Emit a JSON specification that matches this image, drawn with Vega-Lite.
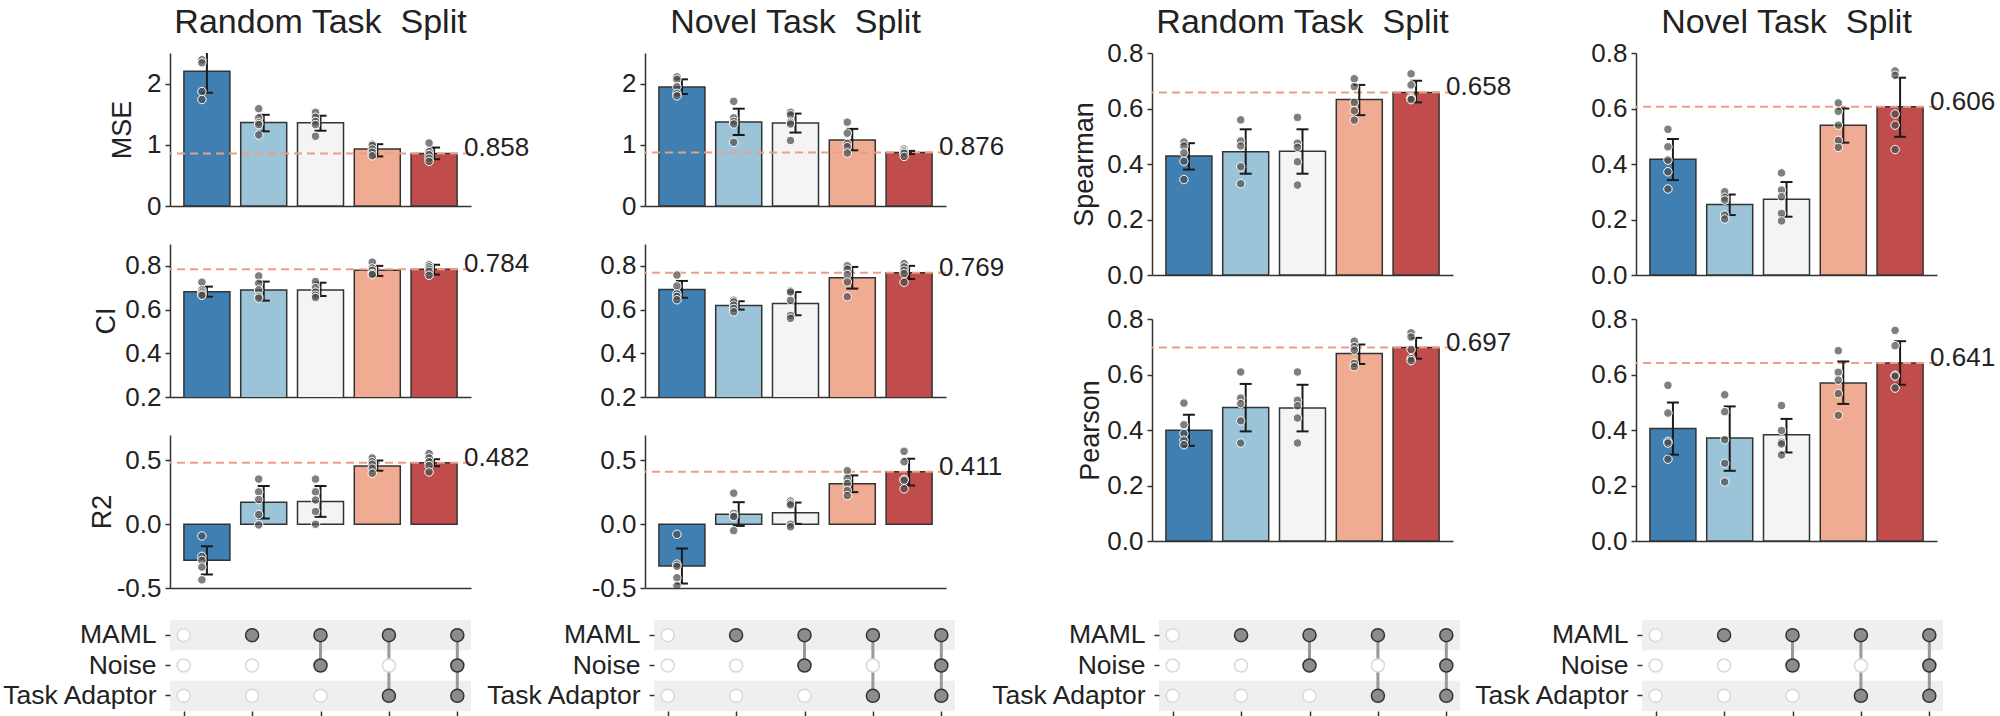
{
  "$schema": "https://vega.github.io/schema/vega-lite/v6.json",
  "background": "white",
  "padding": {"left": 1, "top": 6, "right": 0, "bottom": 0},
  "config": {
    "view": {"stroke": null},
    "font": "Liberation Sans",
    "axis": {
      "labelFont": "Liberation Sans", "titleFont": "Liberation Sans",
      "labelFontSize": 26, "titleFontSize": 27, "titleFontWeight": "normal",
      "labelColor": "#222222", "titleColor": "#222222",
      "domainColor": "#333333", "tickColor": "#333333",
      "domainWidth": 1.5, "tickWidth": 1.5, "tickSize": 5, "labelPadding": 4, "grid": false
    },
    "title": {"font": "Liberation Sans", "fontWeight": "normal", "fontSize": 34, "color": "#222222", "anchor": "middle", "frame": "group", "baseline": "alphabetic"}
  },
  "datasets": {
    "b": [
      {"s":"R","m":"MSE","c":"c1","mean":2.2,"lo":1.85,"hi":2.56},
      {"s":"R","m":"MSE","c":"c2","mean":1.365,"lo":1.22,"hi":1.49},
      {"s":"R","m":"MSE","c":"c3","mean":1.36,"lo":1.23,"hi":1.475},
      {"s":"R","m":"MSE","c":"c4","mean":0.93,"lo":0.81,"hi":1.01},
      {"s":"R","m":"MSE","c":"c5","mean":0.858,"lo":0.765,"hi":0.955},
      {"s":"R","m":"CI","c":"c1","mean":0.682,"lo":0.659,"hi":0.705},
      {"s":"R","m":"CI","c":"c2","mean":0.689,"lo":0.641,"hi":0.728},
      {"s":"R","m":"CI","c":"c3","mean":0.689,"lo":0.662,"hi":0.723},
      {"s":"R","m":"CI","c":"c4","mean":0.78,"lo":0.754,"hi":0.8},
      {"s":"R","m":"CI","c":"c5","mean":0.784,"lo":0.76,"hi":0.805},
      {"s":"R","m":"R2","c":"c1","mean":-0.283,"lo":-0.394,"hi":-0.173},
      {"s":"R","m":"R2","c":"c2","mean":0.173,"lo":0.045,"hi":0.3},
      {"s":"R","m":"R2","c":"c3","mean":0.179,"lo":0.058,"hi":0.3},
      {"s":"R","m":"R2","c":"c4","mean":0.457,"lo":0.42,"hi":0.5},
      {"s":"R","m":"R2","c":"c5","mean":0.482,"lo":0.455,"hi":0.51},
      {"s":"N","m":"MSE","c":"c1","mean":1.946,"lo":1.83,"hi":2.07},
      {"s":"N","m":"MSE","c":"c2","mean":1.372,"lo":1.16,"hi":1.59},
      {"s":"N","m":"MSE","c":"c3","mean":1.355,"lo":1.2,"hi":1.51},
      {"s":"N","m":"MSE","c":"c4","mean":1.077,"lo":0.91,"hi":1.26},
      {"s":"N","m":"MSE","c":"c5","mean":0.876,"lo":0.85,"hi":0.9},
      {"s":"N","m":"CI","c":"c1","mean":0.692,"lo":0.654,"hi":0.731},
      {"s":"N","m":"CI","c":"c2","mean":0.619,"lo":0.6,"hi":0.638},
      {"s":"N","m":"CI","c":"c3","mean":0.628,"lo":0.574,"hi":0.68},
      {"s":"N","m":"CI","c":"c4","mean":0.746,"lo":0.696,"hi":0.795},
      {"s":"N","m":"CI","c":"c5","mean":0.769,"lo":0.74,"hi":0.8},
      {"s":"N","m":"R2","c":"c1","mean":-0.328,"lo":-0.465,"hi":-0.19},
      {"s":"N","m":"R2","c":"c2","mean":0.079,"lo":-0.013,"hi":0.173},
      {"s":"N","m":"R2","c":"c3","mean":0.091,"lo":0.003,"hi":0.17},
      {"s":"N","m":"R2","c":"c4","mean":0.317,"lo":0.252,"hi":0.383},
      {"s":"N","m":"R2","c":"c5","mean":0.411,"lo":0.304,"hi":0.514},
      {"s":"R","m":"Spearman","c":"c1","mean":0.429,"lo":0.38,"hi":0.475},
      {"s":"R","m":"Spearman","c":"c2","mean":0.444,"lo":0.365,"hi":0.525},
      {"s":"R","m":"Spearman","c":"c3","mean":0.446,"lo":0.365,"hi":0.525},
      {"s":"R","m":"Spearman","c":"c4","mean":0.632,"lo":0.576,"hi":0.685},
      {"s":"R","m":"Spearman","c":"c5","mean":0.658,"lo":0.622,"hi":0.7},
      {"s":"R","m":"Pearson","c":"c1","mean":0.399,"lo":0.343,"hi":0.455},
      {"s":"R","m":"Pearson","c":"c2","mean":0.481,"lo":0.395,"hi":0.566},
      {"s":"R","m":"Pearson","c":"c3","mean":0.479,"lo":0.395,"hi":0.563},
      {"s":"R","m":"Pearson","c":"c4","mean":0.676,"lo":0.638,"hi":0.708},
      {"s":"R","m":"Pearson","c":"c5","mean":0.697,"lo":0.657,"hi":0.732},
      {"s":"N","m":"Spearman","c":"c1","mean":0.417,"lo":0.342,"hi":0.49},
      {"s":"N","m":"Spearman","c":"c2","mean":0.254,"lo":0.216,"hi":0.29},
      {"s":"N","m":"Spearman","c":"c3","mean":0.273,"lo":0.21,"hi":0.335},
      {"s":"N","m":"Spearman","c":"c4","mean":0.54,"lo":0.477,"hi":0.6},
      {"s":"N","m":"Spearman","c":"c5","mean":0.606,"lo":0.498,"hi":0.711},
      {"s":"N","m":"Pearson","c":"c1","mean":0.405,"lo":0.311,"hi":0.499},
      {"s":"N","m":"Pearson","c":"c2","mean":0.371,"lo":0.253,"hi":0.485},
      {"s":"N","m":"Pearson","c":"c3","mean":0.383,"lo":0.319,"hi":0.44},
      {"s":"N","m":"Pearson","c":"c4","mean":0.569,"lo":0.494,"hi":0.647},
      {"s":"N","m":"Pearson","c":"c5","mean":0.641,"lo":0.563,"hi":0.72}
    ],
    "p": [
      {"s":"R","m":"MSE","c":"c1","v":2.39},{"s":"R","m":"MSE","c":"c1","v":2.34},{"s":"R","m":"MSE","c":"c1","v":1.87},{"s":"R","m":"MSE","c":"c1","v":1.74},{"s":"R","m":"MSE","c":"c1","v":2.66},
      {"s":"R","m":"MSE","c":"c2","v":1.59},{"s":"R","m":"MSE","c":"c2","v":1.44},{"s":"R","m":"MSE","c":"c2","v":1.36},{"s":"R","m":"MSE","c":"c2","v":1.33},{"s":"R","m":"MSE","c":"c2","v":1.16},
      {"s":"R","m":"MSE","c":"c3","v":1.53},{"s":"R","m":"MSE","c":"c3","v":1.45},{"s":"R","m":"MSE","c":"c3","v":1.38},{"s":"R","m":"MSE","c":"c3","v":1.33},{"s":"R","m":"MSE","c":"c3","v":1.14},
      {"s":"R","m":"MSE","c":"c4","v":1.01},{"s":"R","m":"MSE","c":"c4","v":0.99},{"s":"R","m":"MSE","c":"c4","v":0.93},{"s":"R","m":"MSE","c":"c4","v":0.88},{"s":"R","m":"MSE","c":"c4","v":0.82},
      {"s":"R","m":"MSE","c":"c5","v":1.03},{"s":"R","m":"MSE","c":"c5","v":0.89},{"s":"R","m":"MSE","c":"c5","v":0.84},{"s":"R","m":"MSE","c":"c5","v":0.78},{"s":"R","m":"MSE","c":"c5","v":0.73},
      {"s":"R","m":"CI","c":"c1","v":0.725},{"s":"R","m":"CI","c":"c1","v":0.69},{"s":"R","m":"CI","c":"c1","v":0.68},{"s":"R","m":"CI","c":"c1","v":0.67},{"s":"R","m":"CI","c":"c1","v":0.665},
      {"s":"R","m":"CI","c":"c2","v":0.754},{"s":"R","m":"CI","c":"c2","v":0.72},{"s":"R","m":"CI","c":"c2","v":0.69},{"s":"R","m":"CI","c":"c2","v":0.66},{"s":"R","m":"CI","c":"c2","v":0.652},
      {"s":"R","m":"CI","c":"c3","v":0.728},{"s":"R","m":"CI","c":"c3","v":0.7},{"s":"R","m":"CI","c":"c3","v":0.68},{"s":"R","m":"CI","c":"c3","v":0.665},{"s":"R","m":"CI","c":"c3","v":0.655},
      {"s":"R","m":"CI","c":"c4","v":0.817},{"s":"R","m":"CI","c":"c4","v":0.79},{"s":"R","m":"CI","c":"c4","v":0.78},{"s":"R","m":"CI","c":"c4","v":0.765},{"s":"R","m":"CI","c":"c4","v":0.76},
      {"s":"R","m":"CI","c":"c5","v":0.805},{"s":"R","m":"CI","c":"c5","v":0.795},{"s":"R","m":"CI","c":"c5","v":0.785},{"s":"R","m":"CI","c":"c5","v":0.775},{"s":"R","m":"CI","c":"c5","v":0.757},
      {"s":"R","m":"R2","c":"c1","v":-0.092},{"s":"R","m":"R2","c":"c1","v":-0.252},{"s":"R","m":"R2","c":"c1","v":-0.283},{"s":"R","m":"R2","c":"c1","v":-0.336},{"s":"R","m":"R2","c":"c1","v":-0.436},
      {"s":"R","m":"R2","c":"c2","v":0.354},{"s":"R","m":"R2","c":"c2","v":0.254},{"s":"R","m":"R2","c":"c2","v":0.194},{"s":"R","m":"R2","c":"c2","v":0.076},{"s":"R","m":"R2","c":"c2","v":-0.005},
      {"s":"R","m":"R2","c":"c3","v":0.354},{"s":"R","m":"R2","c":"c3","v":0.254},{"s":"R","m":"R2","c":"c3","v":0.19},{"s":"R","m":"R2","c":"c3","v":0.1},{"s":"R","m":"R2","c":"c3","v":0.0},
      {"s":"R","m":"R2","c":"c4","v":0.52},{"s":"R","m":"R2","c":"c4","v":0.49},{"s":"R","m":"R2","c":"c4","v":0.47},{"s":"R","m":"R2","c":"c4","v":0.44},{"s":"R","m":"R2","c":"c4","v":0.4},
      {"s":"R","m":"R2","c":"c5","v":0.555},{"s":"R","m":"R2","c":"c5","v":0.52},{"s":"R","m":"R2","c":"c5","v":0.49},{"s":"R","m":"R2","c":"c5","v":0.46},{"s":"R","m":"R2","c":"c5","v":0.41},
      {"s":"N","m":"MSE","c":"c1","v":2.11},{"s":"N","m":"MSE","c":"c1","v":2.07},{"s":"N","m":"MSE","c":"c1","v":1.95},{"s":"N","m":"MSE","c":"c1","v":1.84},{"s":"N","m":"MSE","c":"c1","v":1.8},
      {"s":"N","m":"MSE","c":"c2","v":1.71},{"s":"N","m":"MSE","c":"c2","v":1.44},{"s":"N","m":"MSE","c":"c2","v":1.38},{"s":"N","m":"MSE","c":"c2","v":1.34},{"s":"N","m":"MSE","c":"c2","v":1.04},
      {"s":"N","m":"MSE","c":"c3","v":1.53},{"s":"N","m":"MSE","c":"c3","v":1.49},{"s":"N","m":"MSE","c":"c3","v":1.37},{"s":"N","m":"MSE","c":"c3","v":1.34},{"s":"N","m":"MSE","c":"c3","v":1.07},
      {"s":"N","m":"MSE","c":"c4","v":1.37},{"s":"N","m":"MSE","c":"c4","v":1.19},{"s":"N","m":"MSE","c":"c4","v":1.02},{"s":"N","m":"MSE","c":"c4","v":0.97},{"s":"N","m":"MSE","c":"c4","v":0.865},
      {"s":"N","m":"MSE","c":"c5","v":0.93},{"s":"N","m":"MSE","c":"c5","v":0.9},{"s":"N","m":"MSE","c":"c5","v":0.88},{"s":"N","m":"MSE","c":"c5","v":0.86},{"s":"N","m":"MSE","c":"c5","v":0.81},
      {"s":"N","m":"CI","c":"c1","v":0.758},{"s":"N","m":"CI","c":"c1","v":0.708},{"s":"N","m":"CI","c":"c1","v":0.672},{"s":"N","m":"CI","c":"c1","v":0.66},{"s":"N","m":"CI","c":"c1","v":0.645},
      {"s":"N","m":"CI","c":"c2","v":0.643},{"s":"N","m":"CI","c":"c2","v":0.635},{"s":"N","m":"CI","c":"c2","v":0.62},{"s":"N","m":"CI","c":"c2","v":0.605},{"s":"N","m":"CI","c":"c2","v":0.59},
      {"s":"N","m":"CI","c":"c3","v":0.685},{"s":"N","m":"CI","c":"c3","v":0.68},{"s":"N","m":"CI","c":"c3","v":0.642},{"s":"N","m":"CI","c":"c3","v":0.573},{"s":"N","m":"CI","c":"c3","v":0.56},
      {"s":"N","m":"CI","c":"c4","v":0.8},{"s":"N","m":"CI","c":"c4","v":0.785},{"s":"N","m":"CI","c":"c4","v":0.76},{"s":"N","m":"CI","c":"c4","v":0.726},{"s":"N","m":"CI","c":"c4","v":0.659},
      {"s":"N","m":"CI","c":"c5","v":0.81},{"s":"N","m":"CI","c":"c5","v":0.795},{"s":"N","m":"CI","c":"c5","v":0.78},{"s":"N","m":"CI","c":"c5","v":0.765},{"s":"N","m":"CI","c":"c5","v":0.725},
      {"s":"N","m":"R2","c":"c1","v":-0.079},{"s":"N","m":"R2","c":"c1","v":-0.313},{"s":"N","m":"R2","c":"c1","v":-0.33},{"s":"N","m":"R2","c":"c1","v":-0.42},{"s":"N","m":"R2","c":"c1","v":-0.483},
      {"s":"N","m":"R2","c":"c2","v":0.244},{"s":"N","m":"R2","c":"c2","v":0.085},{"s":"N","m":"R2","c":"c2","v":0.065},{"s":"N","m":"R2","c":"c2","v":0.06},{"s":"N","m":"R2","c":"c2","v":-0.05},
      {"s":"N","m":"R2","c":"c3","v":0.183},{"s":"N","m":"R2","c":"c3","v":0.165},{"s":"N","m":"R2","c":"c3","v":0.152},{"s":"N","m":"R2","c":"c3","v":0.0},{"s":"N","m":"R2","c":"c3","v":-0.02},
      {"s":"N","m":"R2","c":"c4","v":0.42},{"s":"N","m":"R2","c":"c4","v":0.36},{"s":"N","m":"R2","c":"c4","v":0.32},{"s":"N","m":"R2","c":"c4","v":0.265},{"s":"N","m":"R2","c":"c4","v":0.225},
      {"s":"N","m":"R2","c":"c5","v":0.572},{"s":"N","m":"R2","c":"c5","v":0.49},{"s":"N","m":"R2","c":"c5","v":0.353},{"s":"N","m":"R2","c":"c5","v":0.345},{"s":"N","m":"R2","c":"c5","v":0.278},
      {"s":"R","m":"Spearman","c":"c1","v":0.479},{"s":"R","m":"Spearman","c":"c1","v":0.465},{"s":"R","m":"Spearman","c":"c1","v":0.44},{"s":"R","m":"Spearman","c":"c1","v":0.41},{"s":"R","m":"Spearman","c":"c1","v":0.344},
      {"s":"R","m":"Spearman","c":"c2","v":0.559},{"s":"R","m":"Spearman","c":"c2","v":0.483},{"s":"R","m":"Spearman","c":"c2","v":0.465},{"s":"R","m":"Spearman","c":"c2","v":0.39},{"s":"R","m":"Spearman","c":"c2","v":0.329},
      {"s":"R","m":"Spearman","c":"c3","v":0.568},{"s":"R","m":"Spearman","c":"c3","v":0.475},{"s":"R","m":"Spearman","c":"c3","v":0.46},{"s":"R","m":"Spearman","c":"c3","v":0.408},{"s":"R","m":"Spearman","c":"c3","v":0.324},
      {"s":"R","m":"Spearman","c":"c4","v":0.707},{"s":"R","m":"Spearman","c":"c4","v":0.679},{"s":"R","m":"Spearman","c":"c4","v":0.622},{"s":"R","m":"Spearman","c":"c4","v":0.592},{"s":"R","m":"Spearman","c":"c4","v":0.558},
      {"s":"R","m":"Spearman","c":"c5","v":0.725},{"s":"R","m":"Spearman","c":"c5","v":0.685},{"s":"R","m":"Spearman","c":"c5","v":0.64},{"s":"R","m":"Spearman","c":"c5","v":0.635},{"s":"R","m":"Spearman","c":"c5","v":0.632},
      {"s":"R","m":"Pearson","c":"c1","v":0.497},{"s":"R","m":"Pearson","c":"c1","v":0.419},{"s":"R","m":"Pearson","c":"c1","v":0.387},{"s":"R","m":"Pearson","c":"c1","v":0.363},{"s":"R","m":"Pearson","c":"c1","v":0.347},
      {"s":"R","m":"Pearson","c":"c2","v":0.609},{"s":"R","m":"Pearson","c":"c2","v":0.515},{"s":"R","m":"Pearson","c":"c2","v":0.495},{"s":"R","m":"Pearson","c":"c2","v":0.433},{"s":"R","m":"Pearson","c":"c2","v":0.353},
      {"s":"R","m":"Pearson","c":"c3","v":0.609},{"s":"R","m":"Pearson","c":"c3","v":0.507},{"s":"R","m":"Pearson","c":"c3","v":0.487},{"s":"R","m":"Pearson","c":"c3","v":0.443},{"s":"R","m":"Pearson","c":"c3","v":0.353},
      {"s":"R","m":"Pearson","c":"c4","v":0.72},{"s":"R","m":"Pearson","c":"c4","v":0.7},{"s":"R","m":"Pearson","c":"c4","v":0.688},{"s":"R","m":"Pearson","c":"c4","v":0.64},{"s":"R","m":"Pearson","c":"c4","v":0.628},
      {"s":"R","m":"Pearson","c":"c5","v":0.75},{"s":"R","m":"Pearson","c":"c5","v":0.735},{"s":"R","m":"Pearson","c":"c5","v":0.69},{"s":"R","m":"Pearson","c":"c5","v":0.657},{"s":"R","m":"Pearson","c":"c5","v":0.65},
      {"s":"N","m":"Spearman","c":"c1","v":0.525},{"s":"N","m":"Spearman","c":"c1","v":0.462},{"s":"N","m":"Spearman","c":"c1","v":0.414},{"s":"N","m":"Spearman","c":"c1","v":0.372},{"s":"N","m":"Spearman","c":"c1","v":0.31},
      {"s":"N","m":"Spearman","c":"c2","v":0.3},{"s":"N","m":"Spearman","c":"c2","v":0.28},{"s":"N","m":"Spearman","c":"c2","v":0.27},{"s":"N","m":"Spearman","c":"c2","v":0.216},{"s":"N","m":"Spearman","c":"c2","v":0.202},
      {"s":"N","m":"Spearman","c":"c3","v":0.368},{"s":"N","m":"Spearman","c":"c3","v":0.306},{"s":"N","m":"Spearman","c":"c3","v":0.282},{"s":"N","m":"Spearman","c":"c3","v":0.222},{"s":"N","m":"Spearman","c":"c3","v":0.195},
      {"s":"N","m":"Spearman","c":"c4","v":0.62},{"s":"N","m":"Spearman","c":"c4","v":0.59},{"s":"N","m":"Spearman","c":"c4","v":0.54},{"s":"N","m":"Spearman","c":"c4","v":0.485},{"s":"N","m":"Spearman","c":"c4","v":0.46},
      {"s":"N","m":"Spearman","c":"c5","v":0.735},{"s":"N","m":"Spearman","c":"c5","v":0.72},{"s":"N","m":"Spearman","c":"c5","v":0.58},{"s":"N","m":"Spearman","c":"c5","v":0.54},{"s":"N","m":"Spearman","c":"c5","v":0.452},
      {"s":"N","m":"Pearson","c":"c1","v":0.561},{"s":"N","m":"Pearson","c":"c1","v":0.461},{"s":"N","m":"Pearson","c":"c1","v":0.359},{"s":"N","m":"Pearson","c":"c1","v":0.353},{"s":"N","m":"Pearson","c":"c1","v":0.295},
      {"s":"N","m":"Pearson","c":"c2","v":0.527},{"s":"N","m":"Pearson","c":"c2","v":0.466},{"s":"N","m":"Pearson","c":"c2","v":0.365},{"s":"N","m":"Pearson","c":"c2","v":0.28},{"s":"N","m":"Pearson","c":"c2","v":0.213},
      {"s":"N","m":"Pearson","c":"c3","v":0.488},{"s":"N","m":"Pearson","c":"c3","v":0.398},{"s":"N","m":"Pearson","c":"c3","v":0.356},{"s":"N","m":"Pearson","c":"c3","v":0.35},{"s":"N","m":"Pearson","c":"c3","v":0.31},
      {"s":"N","m":"Pearson","c":"c4","v":0.686},{"s":"N","m":"Pearson","c":"c4","v":0.608},{"s":"N","m":"Pearson","c":"c4","v":0.58},{"s":"N","m":"Pearson","c":"c4","v":0.531},{"s":"N","m":"Pearson","c":"c4","v":0.453},
      {"s":"N","m":"Pearson","c":"c5","v":0.759},{"s":"N","m":"Pearson","c":"c5","v":0.704},{"s":"N","m":"Pearson","c":"c5","v":0.597},{"s":"N","m":"Pearson","c":"c5","v":0.594},{"s":"N","m":"Pearson","c":"c5","v":0.551}
    ],
    "shade": [{"r":"MAML"},{"r":"Task Adaptor"}],
    "conn": [
      {"c":"c3","from":"MAML","to":"Noise"},
      {"c":"c4","from":"MAML","to":"Task Adaptor"},
      {"c":"c5","from":"MAML","to":"Task Adaptor"}
    ],
    "mx": [
      {"c":"c1","r":"MAML","on":"n"},{"c":"c1","r":"Noise","on":"n"},{"c":"c1","r":"Task Adaptor","on":"n"},
      {"c":"c2","r":"MAML","on":"y"},{"c":"c2","r":"Noise","on":"n"},{"c":"c2","r":"Task Adaptor","on":"n"},
      {"c":"c3","r":"MAML","on":"y"},{"c":"c3","r":"Noise","on":"y"},{"c":"c3","r":"Task Adaptor","on":"n"},
      {"c":"c4","r":"MAML","on":"y"},{"c":"c4","r":"Noise","on":"n"},{"c":"c4","r":"Task Adaptor","on":"y"},
      {"c":"c5","r":"MAML","on":"y"},{"c":"c5","r":"Noise","on":"y"},{"c":"c5","r":"Task Adaptor","on":"y"}
    ]
  },
  "vconcat": [
    {
      "spacing": 65,
      "hconcat": [
        {
          "spacing": 61,
          "hconcat": [
            {
              "spacing": 25,
              "vconcat": [
                {
                  "width": 301, "height": 153,
                  "title": {"text": "Random Task\u00a0 Split", "offset": 13},
                  "layer": [
                    {"data": {"name": "b"}, "transform": [{"filter": "datum.s=='R'&&datum.m=='MSE'"}],
                     "mark": {"type": "bar", "stroke": "#333333", "strokeWidth": 1.5, "clip": true},
                     "encoding": {
                       "x": {"field": "c", "type": "nominal", "scale": {"domain": ["c1","c2","c3","c4","c5"], "paddingInner": 0.19, "paddingOuter": 0.245}, "axis": {"labels": false, "ticks": false, "title": null}},
                       "y": {"field": "mean", "type": "quantitative", "scale": {"domain": [0, 2.5], "nice": false, "zero": false}, "axis": {"values": [0, 1, 2], "format": "d", "title": "MSE", "minExtent": 32, "maxExtent": 32, "titlePadding": 2}},
                       "fill": {"field": "c", "type": "nominal", "scale": {"domain": ["c1","c2","c3","c4","c5"], "range": ["#3f7fb1","#9bc4d9","#f4f4f4","#f0ac93","#c04d4c"]}, "legend": null}}},
                    {"data": {"name": "b"}, "transform": [{"filter": "datum.s=='R'&&datum.m=='MSE'&&datum.c=='c5'"}],
                     "mark": {"type": "rule", "color": "#ee9e84", "strokeWidth": 2, "strokeDash": [8, 5]},
                     "encoding": {"y": {"field": "mean", "type": "quantitative"}}},
                    {"data": {"name": "b"}, "transform": [{"filter": "datum.s=='R'&&datum.m=='MSE'"}],
                     "mark": {"type": "rule", "color": "#1a1a1a", "strokeWidth": 2, "clip": true},
                     "encoding": {"x": {"field": "c", "type": "nominal"}, "y": {"field": "lo", "type": "quantitative"}, "y2": {"field": "hi"}}},
                    {"data": {"name": "b"}, "transform": [{"filter": "datum.s=='R'&&datum.m=='MSE'"}],
                     "mark": {"type": "tick", "color": "#1a1a1a", "thickness": 2, "size": 12, "opacity": 1, "clip": true},
                     "encoding": {"x": {"field": "c", "type": "nominal"}, "y": {"field": "lo", "type": "quantitative"}}},
                    {"data": {"name": "b"}, "transform": [{"filter": "datum.s=='R'&&datum.m=='MSE'"}],
                     "mark": {"type": "tick", "color": "#1a1a1a", "thickness": 2, "size": 12, "opacity": 1, "clip": true},
                     "encoding": {"x": {"field": "c", "type": "nominal"}, "y": {"field": "hi", "type": "quantitative"}}},
                    {"data": {"name": "p"}, "transform": [{"filter": "datum.s=='R'&&datum.m=='MSE'"}],
                     "mark": {"type": "circle", "size": 72, "fill": "#4d4d4d", "fillOpacity": 0.72, "stroke": "#ffffff", "strokeWidth": 1, "opacity": 1, "xOffset": -5, "clip": true},
                     "encoding": {"x": {"field": "c", "type": "nominal"}, "y": {"field": "v", "type": "quantitative"}}},
                    {"data": {"name": "b"}, "transform": [{"filter": "datum.s=='R'&&datum.m=='MSE'&&datum.c=='c5'"}],
                     "mark": {"type": "text", "align": "left", "baseline": "middle", "dx": 7, "dy": -5, "fontSize": 26, "color": "#222222"},
                     "encoding": {"x": {"datum": "c5", "type": "nominal", "bandPosition": 1}, "y": {"field": "mean", "type": "quantitative"}, "text": {"field": "mean", "type": "quantitative", "format": ".3f"}}}
                  ]
                },
                {
                  "width": 301, "height": 153,
                  "layer": [
                    {"data": {"name": "b"}, "transform": [{"filter": "datum.s=='R'&&datum.m=='CI'"}],
                     "mark": {"type": "bar", "stroke": "#333333", "strokeWidth": 1.5, "clip": true},
                     "encoding": {
                       "x": {"field": "c", "type": "nominal", "scale": {"domain": ["c1","c2","c3","c4","c5"], "paddingInner": 0.19, "paddingOuter": 0.245}, "axis": {"labels": false, "ticks": false, "title": null}},
                       "y": {"field": "mean", "type": "quantitative", "scale": {"domain": [0.2, 0.9], "nice": false, "zero": false}, "axis": {"values": [0.2, 0.4, 0.6, 0.8], "format": ".1f", "title": "CI", "minExtent": 48, "maxExtent": 48, "titlePadding": 2}},
                       "fill": {"field": "c", "type": "nominal", "scale": {"domain": ["c1","c2","c3","c4","c5"], "range": ["#3f7fb1","#9bc4d9","#f4f4f4","#f0ac93","#c04d4c"]}, "legend": null}}},
                    {"data": {"name": "b"}, "transform": [{"filter": "datum.s=='R'&&datum.m=='CI'&&datum.c=='c5'"}],
                     "mark": {"type": "rule", "color": "#ee9e84", "strokeWidth": 2, "strokeDash": [8, 5]},
                     "encoding": {"y": {"field": "mean", "type": "quantitative"}}},
                    {"data": {"name": "b"}, "transform": [{"filter": "datum.s=='R'&&datum.m=='CI'"}],
                     "mark": {"type": "rule", "color": "#1a1a1a", "strokeWidth": 2, "clip": true},
                     "encoding": {"x": {"field": "c", "type": "nominal"}, "y": {"field": "lo", "type": "quantitative"}, "y2": {"field": "hi"}}},
                    {"data": {"name": "b"}, "transform": [{"filter": "datum.s=='R'&&datum.m=='CI'"}],
                     "mark": {"type": "tick", "color": "#1a1a1a", "thickness": 2, "size": 12, "opacity": 1, "clip": true},
                     "encoding": {"x": {"field": "c", "type": "nominal"}, "y": {"field": "lo", "type": "quantitative"}}},
                    {"data": {"name": "b"}, "transform": [{"filter": "datum.s=='R'&&datum.m=='CI'"}],
                     "mark": {"type": "tick", "color": "#1a1a1a", "thickness": 2, "size": 12, "opacity": 1, "clip": true},
                     "encoding": {"x": {"field": "c", "type": "nominal"}, "y": {"field": "hi", "type": "quantitative"}}},
                    {"data": {"name": "p"}, "transform": [{"filter": "datum.s=='R'&&datum.m=='CI'"}],
                     "mark": {"type": "circle", "size": 72, "fill": "#4d4d4d", "fillOpacity": 0.72, "stroke": "#ffffff", "strokeWidth": 1, "opacity": 1, "xOffset": -5, "clip": true},
                     "encoding": {"x": {"field": "c", "type": "nominal"}, "y": {"field": "v", "type": "quantitative"}}},
                    {"data": {"name": "b"}, "transform": [{"filter": "datum.s=='R'&&datum.m=='CI'&&datum.c=='c5'"}],
                     "mark": {"type": "text", "align": "left", "baseline": "middle", "dx": 7, "dy": -5, "fontSize": 26, "color": "#222222"},
                     "encoding": {"x": {"datum": "c5", "type": "nominal", "bandPosition": 1}, "y": {"field": "mean", "type": "quantitative"}, "text": {"field": "mean", "type": "quantitative", "format": ".3f"}}}
                  ]
                },
                {
                  "width": 301, "height": 153,
                  "layer": [
                    {"data": {"name": "b"}, "transform": [{"filter": "datum.s=='R'&&datum.m=='R2'"}],
                     "mark": {"type": "bar", "stroke": "#333333", "strokeWidth": 1.5, "clip": true},
                     "encoding": {
                       "x": {"field": "c", "type": "nominal", "scale": {"domain": ["c1","c2","c3","c4","c5"], "paddingInner": 0.19, "paddingOuter": 0.245}, "axis": {"labels": false, "ticks": false, "title": null}},
                       "y": {"field": "mean", "type": "quantitative", "scale": {"domain": [-0.5, 0.7], "nice": false, "zero": false}, "axis": {"values": [-0.5, 0, 0.5], "labelExpr": "replace(format(datum.value, '.1f'), '\u2212', '-')", "title": "R2", "minExtent": 52, "maxExtent": 52, "titlePadding": 2}},
                       "fill": {"field": "c", "type": "nominal", "scale": {"domain": ["c1","c2","c3","c4","c5"], "range": ["#3f7fb1","#9bc4d9","#f4f4f4","#f0ac93","#c04d4c"]}, "legend": null}}},
                    {"data": {"name": "b"}, "transform": [{"filter": "datum.s=='R'&&datum.m=='R2'&&datum.c=='c5'"}],
                     "mark": {"type": "rule", "color": "#ee9e84", "strokeWidth": 2, "strokeDash": [8, 5]},
                     "encoding": {"y": {"field": "mean", "type": "quantitative"}}},
                    {"data": {"name": "b"}, "transform": [{"filter": "datum.s=='R'&&datum.m=='R2'"}],
                     "mark": {"type": "rule", "color": "#1a1a1a", "strokeWidth": 2, "clip": true},
                     "encoding": {"x": {"field": "c", "type": "nominal"}, "y": {"field": "lo", "type": "quantitative"}, "y2": {"field": "hi"}}},
                    {"data": {"name": "b"}, "transform": [{"filter": "datum.s=='R'&&datum.m=='R2'"}],
                     "mark": {"type": "tick", "color": "#1a1a1a", "thickness": 2, "size": 12, "opacity": 1, "clip": true},
                     "encoding": {"x": {"field": "c", "type": "nominal"}, "y": {"field": "lo", "type": "quantitative"}}},
                    {"data": {"name": "b"}, "transform": [{"filter": "datum.s=='R'&&datum.m=='R2'"}],
                     "mark": {"type": "tick", "color": "#1a1a1a", "thickness": 2, "size": 12, "opacity": 1, "clip": true},
                     "encoding": {"x": {"field": "c", "type": "nominal"}, "y": {"field": "hi", "type": "quantitative"}}},
                    {"data": {"name": "p"}, "transform": [{"filter": "datum.s=='R'&&datum.m=='R2'"}],
                     "mark": {"type": "circle", "size": 72, "fill": "#4d4d4d", "fillOpacity": 0.72, "stroke": "#ffffff", "strokeWidth": 1, "opacity": 1, "xOffset": -5, "clip": true},
                     "encoding": {"x": {"field": "c", "type": "nominal"}, "y": {"field": "v", "type": "quantitative"}}},
                    {"data": {"name": "b"}, "transform": [{"filter": "datum.s=='R'&&datum.m=='R2'&&datum.c=='c5'"}],
                     "mark": {"type": "text", "align": "left", "baseline": "middle", "dx": 7, "dy": -5, "fontSize": 26, "color": "#222222"},
                     "encoding": {"x": {"datum": "c5", "type": "nominal", "bandPosition": 1}, "y": {"field": "mean", "type": "quantitative"}, "text": {"field": "mean", "type": "quantitative", "format": ".3f"}}}
                  ]
                }
              ]
            },
            {
              "spacing": 25,
              "vconcat": [
                {
                  "width": 301, "height": 153,
                  "title": {"text": "Novel Task\u00a0 Split", "offset": 13},
                  "layer": [
                    {"data": {"name": "b"}, "transform": [{"filter": "datum.s=='N'&&datum.m=='MSE'"}],
                     "mark": {"type": "bar", "stroke": "#333333", "strokeWidth": 1.5, "clip": true},
                     "encoding": {
                       "x": {"field": "c", "type": "nominal", "scale": {"domain": ["c1","c2","c3","c4","c5"], "paddingInner": 0.19, "paddingOuter": 0.245}, "axis": {"labels": false, "ticks": false, "title": null}},
                       "y": {"field": "mean", "type": "quantitative", "scale": {"domain": [0, 2.5], "nice": false, "zero": false}, "axis": {"values": [0, 1, 2], "format": "d", "title": null}},
                       "fill": {"field": "c", "type": "nominal", "scale": {"domain": ["c1","c2","c3","c4","c5"], "range": ["#3f7fb1","#9bc4d9","#f4f4f4","#f0ac93","#c04d4c"]}, "legend": null}}},
                    {"data": {"name": "b"}, "transform": [{"filter": "datum.s=='N'&&datum.m=='MSE'&&datum.c=='c5'"}],
                     "mark": {"type": "rule", "color": "#ee9e84", "strokeWidth": 2, "strokeDash": [8, 5]},
                     "encoding": {"y": {"field": "mean", "type": "quantitative"}}},
                    {"data": {"name": "b"}, "transform": [{"filter": "datum.s=='N'&&datum.m=='MSE'"}],
                     "mark": {"type": "rule", "color": "#1a1a1a", "strokeWidth": 2, "clip": true},
                     "encoding": {"x": {"field": "c", "type": "nominal"}, "y": {"field": "lo", "type": "quantitative"}, "y2": {"field": "hi"}}},
                    {"data": {"name": "b"}, "transform": [{"filter": "datum.s=='N'&&datum.m=='MSE'"}],
                     "mark": {"type": "tick", "color": "#1a1a1a", "thickness": 2, "size": 12, "opacity": 1, "clip": true},
                     "encoding": {"x": {"field": "c", "type": "nominal"}, "y": {"field": "lo", "type": "quantitative"}}},
                    {"data": {"name": "b"}, "transform": [{"filter": "datum.s=='N'&&datum.m=='MSE'"}],
                     "mark": {"type": "tick", "color": "#1a1a1a", "thickness": 2, "size": 12, "opacity": 1, "clip": true},
                     "encoding": {"x": {"field": "c", "type": "nominal"}, "y": {"field": "hi", "type": "quantitative"}}},
                    {"data": {"name": "p"}, "transform": [{"filter": "datum.s=='N'&&datum.m=='MSE'"}],
                     "mark": {"type": "circle", "size": 72, "fill": "#4d4d4d", "fillOpacity": 0.72, "stroke": "#ffffff", "strokeWidth": 1, "opacity": 1, "xOffset": -5, "clip": true},
                     "encoding": {"x": {"field": "c", "type": "nominal"}, "y": {"field": "v", "type": "quantitative"}}},
                    {"data": {"name": "b"}, "transform": [{"filter": "datum.s=='N'&&datum.m=='MSE'&&datum.c=='c5'"}],
                     "mark": {"type": "text", "align": "left", "baseline": "middle", "dx": 7, "dy": -5, "fontSize": 26, "color": "#222222"},
                     "encoding": {"x": {"datum": "c5", "type": "nominal", "bandPosition": 1}, "y": {"field": "mean", "type": "quantitative"}, "text": {"field": "mean", "type": "quantitative", "format": ".3f"}}}
                  ]
                },
                {
                  "width": 301, "height": 153,
                  "layer": [
                    {"data": {"name": "b"}, "transform": [{"filter": "datum.s=='N'&&datum.m=='CI'"}],
                     "mark": {"type": "bar", "stroke": "#333333", "strokeWidth": 1.5, "clip": true},
                     "encoding": {
                       "x": {"field": "c", "type": "nominal", "scale": {"domain": ["c1","c2","c3","c4","c5"], "paddingInner": 0.19, "paddingOuter": 0.245}, "axis": {"labels": false, "ticks": false, "title": null}},
                       "y": {"field": "mean", "type": "quantitative", "scale": {"domain": [0.2, 0.9], "nice": false, "zero": false}, "axis": {"values": [0.2, 0.4, 0.6, 0.8], "format": ".1f", "title": null}},
                       "fill": {"field": "c", "type": "nominal", "scale": {"domain": ["c1","c2","c3","c4","c5"], "range": ["#3f7fb1","#9bc4d9","#f4f4f4","#f0ac93","#c04d4c"]}, "legend": null}}},
                    {"data": {"name": "b"}, "transform": [{"filter": "datum.s=='N'&&datum.m=='CI'&&datum.c=='c5'"}],
                     "mark": {"type": "rule", "color": "#ee9e84", "strokeWidth": 2, "strokeDash": [8, 5]},
                     "encoding": {"y": {"field": "mean", "type": "quantitative"}}},
                    {"data": {"name": "b"}, "transform": [{"filter": "datum.s=='N'&&datum.m=='CI'"}],
                     "mark": {"type": "rule", "color": "#1a1a1a", "strokeWidth": 2, "clip": true},
                     "encoding": {"x": {"field": "c", "type": "nominal"}, "y": {"field": "lo", "type": "quantitative"}, "y2": {"field": "hi"}}},
                    {"data": {"name": "b"}, "transform": [{"filter": "datum.s=='N'&&datum.m=='CI'"}],
                     "mark": {"type": "tick", "color": "#1a1a1a", "thickness": 2, "size": 12, "opacity": 1, "clip": true},
                     "encoding": {"x": {"field": "c", "type": "nominal"}, "y": {"field": "lo", "type": "quantitative"}}},
                    {"data": {"name": "b"}, "transform": [{"filter": "datum.s=='N'&&datum.m=='CI'"}],
                     "mark": {"type": "tick", "color": "#1a1a1a", "thickness": 2, "size": 12, "opacity": 1, "clip": true},
                     "encoding": {"x": {"field": "c", "type": "nominal"}, "y": {"field": "hi", "type": "quantitative"}}},
                    {"data": {"name": "p"}, "transform": [{"filter": "datum.s=='N'&&datum.m=='CI'"}],
                     "mark": {"type": "circle", "size": 72, "fill": "#4d4d4d", "fillOpacity": 0.72, "stroke": "#ffffff", "strokeWidth": 1, "opacity": 1, "xOffset": -5, "clip": true},
                     "encoding": {"x": {"field": "c", "type": "nominal"}, "y": {"field": "v", "type": "quantitative"}}},
                    {"data": {"name": "b"}, "transform": [{"filter": "datum.s=='N'&&datum.m=='CI'&&datum.c=='c5'"}],
                     "mark": {"type": "text", "align": "left", "baseline": "middle", "dx": 7, "dy": -5, "fontSize": 26, "color": "#222222"},
                     "encoding": {"x": {"datum": "c5", "type": "nominal", "bandPosition": 1}, "y": {"field": "mean", "type": "quantitative"}, "text": {"field": "mean", "type": "quantitative", "format": ".3f"}}}
                  ]
                },
                {
                  "width": 301, "height": 153,
                  "layer": [
                    {"data": {"name": "b"}, "transform": [{"filter": "datum.s=='N'&&datum.m=='R2'"}],
                     "mark": {"type": "bar", "stroke": "#333333", "strokeWidth": 1.5, "clip": true},
                     "encoding": {
                       "x": {"field": "c", "type": "nominal", "scale": {"domain": ["c1","c2","c3","c4","c5"], "paddingInner": 0.19, "paddingOuter": 0.245}, "axis": {"labels": false, "ticks": false, "title": null}},
                       "y": {"field": "mean", "type": "quantitative", "scale": {"domain": [-0.5, 0.7], "nice": false, "zero": false}, "axis": {"values": [-0.5, 0, 0.5], "labelExpr": "replace(format(datum.value, '.1f'), '\u2212', '-')", "title": null}},
                       "fill": {"field": "c", "type": "nominal", "scale": {"domain": ["c1","c2","c3","c4","c5"], "range": ["#3f7fb1","#9bc4d9","#f4f4f4","#f0ac93","#c04d4c"]}, "legend": null}}},
                    {"data": {"name": "b"}, "transform": [{"filter": "datum.s=='N'&&datum.m=='R2'&&datum.c=='c5'"}],
                     "mark": {"type": "rule", "color": "#ee9e84", "strokeWidth": 2, "strokeDash": [8, 5]},
                     "encoding": {"y": {"field": "mean", "type": "quantitative"}}},
                    {"data": {"name": "b"}, "transform": [{"filter": "datum.s=='N'&&datum.m=='R2'"}],
                     "mark": {"type": "rule", "color": "#1a1a1a", "strokeWidth": 2, "clip": true},
                     "encoding": {"x": {"field": "c", "type": "nominal"}, "y": {"field": "lo", "type": "quantitative"}, "y2": {"field": "hi"}}},
                    {"data": {"name": "b"}, "transform": [{"filter": "datum.s=='N'&&datum.m=='R2'"}],
                     "mark": {"type": "tick", "color": "#1a1a1a", "thickness": 2, "size": 12, "opacity": 1, "clip": true},
                     "encoding": {"x": {"field": "c", "type": "nominal"}, "y": {"field": "lo", "type": "quantitative"}}},
                    {"data": {"name": "b"}, "transform": [{"filter": "datum.s=='N'&&datum.m=='R2'"}],
                     "mark": {"type": "tick", "color": "#1a1a1a", "thickness": 2, "size": 12, "opacity": 1, "clip": true},
                     "encoding": {"x": {"field": "c", "type": "nominal"}, "y": {"field": "hi", "type": "quantitative"}}},
                    {"data": {"name": "p"}, "transform": [{"filter": "datum.s=='N'&&datum.m=='R2'"}],
                     "mark": {"type": "circle", "size": 72, "fill": "#4d4d4d", "fillOpacity": 0.72, "stroke": "#ffffff", "strokeWidth": 1, "opacity": 1, "xOffset": -5, "clip": true},
                     "encoding": {"x": {"field": "c", "type": "nominal"}, "y": {"field": "v", "type": "quantitative"}}},
                    {"data": {"name": "b"}, "transform": [{"filter": "datum.s=='N'&&datum.m=='R2'&&datum.c=='c5'"}],
                     "mark": {"type": "text", "align": "left", "baseline": "middle", "dx": 7, "dy": -5, "fontSize": 26, "color": "#222222"},
                     "encoding": {"x": {"datum": "c5", "type": "nominal", "bandPosition": 1}, "y": {"field": "mean", "type": "quantitative"}, "text": {"field": "mean", "type": "quantitative", "format": ".3f"}}}
                  ]
                }
              ]
            }
          ]
        },
        {
          "spacing": 78,
          "hconcat": [
            {
              "spacing": 18,
              "vconcat": [
                {
                  "width": 301, "height": 222,
                  "title": {"text": "Random Task\u00a0 Split", "offset": 0},
                  "layer": [
                    {"data": {"name": "b"}, "transform": [{"filter": "datum.s=='R'&&datum.m=='Spearman'"}],
                     "mark": {"type": "bar", "stroke": "#333333", "strokeWidth": 1.5, "clip": true},
                     "encoding": {
                       "x": {"field": "c", "type": "nominal", "scale": {"domain": ["c1","c2","c3","c4","c5"], "paddingInner": 0.19, "paddingOuter": 0.245}, "axis": {"labels": false, "ticks": false, "title": null}},
                       "y": {"field": "mean", "type": "quantitative", "scale": {"domain": [0, 0.8], "nice": false, "zero": false}, "axis": {"values": [0, 0.2, 0.4, 0.6, 0.8], "format": ".1f", "title": "Spearman", "minExtent": 52, "maxExtent": 52, "titlePadding": 2}},
                       "fill": {"field": "c", "type": "nominal", "scale": {"domain": ["c1","c2","c3","c4","c5"], "range": ["#3f7fb1","#9bc4d9","#f4f4f4","#f0ac93","#c04d4c"]}, "legend": null}}},
                    {"data": {"name": "b"}, "transform": [{"filter": "datum.s=='R'&&datum.m=='Spearman'&&datum.c=='c5'"}],
                     "mark": {"type": "rule", "color": "#ee9e84", "strokeWidth": 2, "strokeDash": [8, 5]},
                     "encoding": {"y": {"field": "mean", "type": "quantitative"}}},
                    {"data": {"name": "b"}, "transform": [{"filter": "datum.s=='R'&&datum.m=='Spearman'"}],
                     "mark": {"type": "rule", "color": "#1a1a1a", "strokeWidth": 2, "clip": true},
                     "encoding": {"x": {"field": "c", "type": "nominal"}, "y": {"field": "lo", "type": "quantitative"}, "y2": {"field": "hi"}}},
                    {"data": {"name": "b"}, "transform": [{"filter": "datum.s=='R'&&datum.m=='Spearman'"}],
                     "mark": {"type": "tick", "color": "#1a1a1a", "thickness": 2, "size": 12, "opacity": 1, "clip": true},
                     "encoding": {"x": {"field": "c", "type": "nominal"}, "y": {"field": "lo", "type": "quantitative"}}},
                    {"data": {"name": "b"}, "transform": [{"filter": "datum.s=='R'&&datum.m=='Spearman'"}],
                     "mark": {"type": "tick", "color": "#1a1a1a", "thickness": 2, "size": 12, "opacity": 1, "clip": true},
                     "encoding": {"x": {"field": "c", "type": "nominal"}, "y": {"field": "hi", "type": "quantitative"}}},
                    {"data": {"name": "p"}, "transform": [{"filter": "datum.s=='R'&&datum.m=='Spearman'"}],
                     "mark": {"type": "circle", "size": 72, "fill": "#4d4d4d", "fillOpacity": 0.72, "stroke": "#ffffff", "strokeWidth": 1, "opacity": 1, "xOffset": -5, "clip": true},
                     "encoding": {"x": {"field": "c", "type": "nominal"}, "y": {"field": "v", "type": "quantitative"}}},
                    {"data": {"name": "b"}, "transform": [{"filter": "datum.s=='R'&&datum.m=='Spearman'&&datum.c=='c5'"}],
                     "mark": {"type": "text", "align": "left", "baseline": "middle", "dx": 7, "dy": -5, "fontSize": 26, "color": "#222222"},
                     "encoding": {"x": {"datum": "c5", "type": "nominal", "bandPosition": 1}, "y": {"field": "mean", "type": "quantitative"}, "text": {"field": "mean", "type": "quantitative", "format": ".3f"}}}
                  ]
                },
                {
                  "width": 301, "height": 222,
                  "layer": [
                    {"data": {"name": "b"}, "transform": [{"filter": "datum.s=='R'&&datum.m=='Pearson'"}],
                     "mark": {"type": "bar", "stroke": "#333333", "strokeWidth": 1.5, "clip": true},
                     "encoding": {
                       "x": {"field": "c", "type": "nominal", "scale": {"domain": ["c1","c2","c3","c4","c5"], "paddingInner": 0.19, "paddingOuter": 0.245}, "axis": {"labels": false, "ticks": false, "title": null}},
                       "y": {"field": "mean", "type": "quantitative", "scale": {"domain": [0, 0.8], "nice": false, "zero": false}, "axis": {"values": [0, 0.2, 0.4, 0.6, 0.8], "format": ".1f", "title": "Pearson", "minExtent": 46, "maxExtent": 46, "titlePadding": 2}},
                       "fill": {"field": "c", "type": "nominal", "scale": {"domain": ["c1","c2","c3","c4","c5"], "range": ["#3f7fb1","#9bc4d9","#f4f4f4","#f0ac93","#c04d4c"]}, "legend": null}}},
                    {"data": {"name": "b"}, "transform": [{"filter": "datum.s=='R'&&datum.m=='Pearson'&&datum.c=='c5'"}],
                     "mark": {"type": "rule", "color": "#ee9e84", "strokeWidth": 2, "strokeDash": [8, 5]},
                     "encoding": {"y": {"field": "mean", "type": "quantitative"}}},
                    {"data": {"name": "b"}, "transform": [{"filter": "datum.s=='R'&&datum.m=='Pearson'"}],
                     "mark": {"type": "rule", "color": "#1a1a1a", "strokeWidth": 2, "clip": true},
                     "encoding": {"x": {"field": "c", "type": "nominal"}, "y": {"field": "lo", "type": "quantitative"}, "y2": {"field": "hi"}}},
                    {"data": {"name": "b"}, "transform": [{"filter": "datum.s=='R'&&datum.m=='Pearson'"}],
                     "mark": {"type": "tick", "color": "#1a1a1a", "thickness": 2, "size": 12, "opacity": 1, "clip": true},
                     "encoding": {"x": {"field": "c", "type": "nominal"}, "y": {"field": "lo", "type": "quantitative"}}},
                    {"data": {"name": "b"}, "transform": [{"filter": "datum.s=='R'&&datum.m=='Pearson'"}],
                     "mark": {"type": "tick", "color": "#1a1a1a", "thickness": 2, "size": 12, "opacity": 1, "clip": true},
                     "encoding": {"x": {"field": "c", "type": "nominal"}, "y": {"field": "hi", "type": "quantitative"}}},
                    {"data": {"name": "p"}, "transform": [{"filter": "datum.s=='R'&&datum.m=='Pearson'"}],
                     "mark": {"type": "circle", "size": 72, "fill": "#4d4d4d", "fillOpacity": 0.72, "stroke": "#ffffff", "strokeWidth": 1, "opacity": 1, "xOffset": -5, "clip": true},
                     "encoding": {"x": {"field": "c", "type": "nominal"}, "y": {"field": "v", "type": "quantitative"}}},
                    {"data": {"name": "b"}, "transform": [{"filter": "datum.s=='R'&&datum.m=='Pearson'&&datum.c=='c5'"}],
                     "mark": {"type": "text", "align": "left", "baseline": "middle", "dx": 7, "dy": -5, "fontSize": 26, "color": "#222222"},
                     "encoding": {"x": {"datum": "c5", "type": "nominal", "bandPosition": 1}, "y": {"field": "mean", "type": "quantitative"}, "text": {"field": "mean", "type": "quantitative", "format": ".3f"}}}
                  ]
                }
              ]
            },
            {
              "spacing": 18,
              "vconcat": [
                {
                  "width": 301, "height": 222,
                  "title": {"text": "Novel Task\u00a0 Split", "offset": 0},
                  "layer": [
                    {"data": {"name": "b"}, "transform": [{"filter": "datum.s=='N'&&datum.m=='Spearman'"}],
                     "mark": {"type": "bar", "stroke": "#333333", "strokeWidth": 1.5, "clip": true},
                     "encoding": {
                       "x": {"field": "c", "type": "nominal", "scale": {"domain": ["c1","c2","c3","c4","c5"], "paddingInner": 0.19, "paddingOuter": 0.245}, "axis": {"labels": false, "ticks": false, "title": null}},
                       "y": {"field": "mean", "type": "quantitative", "scale": {"domain": [0, 0.8], "nice": false, "zero": false}, "axis": {"values": [0, 0.2, 0.4, 0.6, 0.8], "format": ".1f", "title": null}},
                       "fill": {"field": "c", "type": "nominal", "scale": {"domain": ["c1","c2","c3","c4","c5"], "range": ["#3f7fb1","#9bc4d9","#f4f4f4","#f0ac93","#c04d4c"]}, "legend": null}}},
                    {"data": {"name": "b"}, "transform": [{"filter": "datum.s=='N'&&datum.m=='Spearman'&&datum.c=='c5'"}],
                     "mark": {"type": "rule", "color": "#ee9e84", "strokeWidth": 2, "strokeDash": [8, 5]},
                     "encoding": {"y": {"field": "mean", "type": "quantitative"}}},
                    {"data": {"name": "b"}, "transform": [{"filter": "datum.s=='N'&&datum.m=='Spearman'"}],
                     "mark": {"type": "rule", "color": "#1a1a1a", "strokeWidth": 2, "clip": true},
                     "encoding": {"x": {"field": "c", "type": "nominal"}, "y": {"field": "lo", "type": "quantitative"}, "y2": {"field": "hi"}}},
                    {"data": {"name": "b"}, "transform": [{"filter": "datum.s=='N'&&datum.m=='Spearman'"}],
                     "mark": {"type": "tick", "color": "#1a1a1a", "thickness": 2, "size": 12, "opacity": 1, "clip": true},
                     "encoding": {"x": {"field": "c", "type": "nominal"}, "y": {"field": "lo", "type": "quantitative"}}},
                    {"data": {"name": "b"}, "transform": [{"filter": "datum.s=='N'&&datum.m=='Spearman'"}],
                     "mark": {"type": "tick", "color": "#1a1a1a", "thickness": 2, "size": 12, "opacity": 1, "clip": true},
                     "encoding": {"x": {"field": "c", "type": "nominal"}, "y": {"field": "hi", "type": "quantitative"}}},
                    {"data": {"name": "p"}, "transform": [{"filter": "datum.s=='N'&&datum.m=='Spearman'"}],
                     "mark": {"type": "circle", "size": 72, "fill": "#4d4d4d", "fillOpacity": 0.72, "stroke": "#ffffff", "strokeWidth": 1, "opacity": 1, "xOffset": -5, "clip": true},
                     "encoding": {"x": {"field": "c", "type": "nominal"}, "y": {"field": "v", "type": "quantitative"}}},
                    {"data": {"name": "b"}, "transform": [{"filter": "datum.s=='N'&&datum.m=='Spearman'&&datum.c=='c5'"}],
                     "mark": {"type": "text", "align": "left", "baseline": "middle", "dx": 7, "dy": -5, "fontSize": 26, "color": "#222222"},
                     "encoding": {"x": {"datum": "c5", "type": "nominal", "bandPosition": 1}, "y": {"field": "mean", "type": "quantitative"}, "text": {"field": "mean", "type": "quantitative", "format": ".3f"}}}
                  ]
                },
                {
                  "width": 301, "height": 222,
                  "layer": [
                    {"data": {"name": "b"}, "transform": [{"filter": "datum.s=='N'&&datum.m=='Pearson'"}],
                     "mark": {"type": "bar", "stroke": "#333333", "strokeWidth": 1.5, "clip": true},
                     "encoding": {
                       "x": {"field": "c", "type": "nominal", "scale": {"domain": ["c1","c2","c3","c4","c5"], "paddingInner": 0.19, "paddingOuter": 0.245}, "axis": {"labels": false, "ticks": false, "title": null}},
                       "y": {"field": "mean", "type": "quantitative", "scale": {"domain": [0, 0.8], "nice": false, "zero": false}, "axis": {"values": [0, 0.2, 0.4, 0.6, 0.8], "format": ".1f", "title": null}},
                       "fill": {"field": "c", "type": "nominal", "scale": {"domain": ["c1","c2","c3","c4","c5"], "range": ["#3f7fb1","#9bc4d9","#f4f4f4","#f0ac93","#c04d4c"]}, "legend": null}}},
                    {"data": {"name": "b"}, "transform": [{"filter": "datum.s=='N'&&datum.m=='Pearson'&&datum.c=='c5'"}],
                     "mark": {"type": "rule", "color": "#ee9e84", "strokeWidth": 2, "strokeDash": [8, 5]},
                     "encoding": {"y": {"field": "mean", "type": "quantitative"}}},
                    {"data": {"name": "b"}, "transform": [{"filter": "datum.s=='N'&&datum.m=='Pearson'"}],
                     "mark": {"type": "rule", "color": "#1a1a1a", "strokeWidth": 2, "clip": true},
                     "encoding": {"x": {"field": "c", "type": "nominal"}, "y": {"field": "lo", "type": "quantitative"}, "y2": {"field": "hi"}}},
                    {"data": {"name": "b"}, "transform": [{"filter": "datum.s=='N'&&datum.m=='Pearson'"}],
                     "mark": {"type": "tick", "color": "#1a1a1a", "thickness": 2, "size": 12, "opacity": 1, "clip": true},
                     "encoding": {"x": {"field": "c", "type": "nominal"}, "y": {"field": "lo", "type": "quantitative"}}},
                    {"data": {"name": "b"}, "transform": [{"filter": "datum.s=='N'&&datum.m=='Pearson'"}],
                     "mark": {"type": "tick", "color": "#1a1a1a", "thickness": 2, "size": 12, "opacity": 1, "clip": true},
                     "encoding": {"x": {"field": "c", "type": "nominal"}, "y": {"field": "hi", "type": "quantitative"}}},
                    {"data": {"name": "p"}, "transform": [{"filter": "datum.s=='N'&&datum.m=='Pearson'"}],
                     "mark": {"type": "circle", "size": 72, "fill": "#4d4d4d", "fillOpacity": 0.72, "stroke": "#ffffff", "strokeWidth": 1, "opacity": 1, "xOffset": -5, "clip": true},
                     "encoding": {"x": {"field": "c", "type": "nominal"}, "y": {"field": "v", "type": "quantitative"}}},
                    {"data": {"name": "b"}, "transform": [{"filter": "datum.s=='N'&&datum.m=='Pearson'&&datum.c=='c5'"}],
                     "mark": {"type": "text", "align": "left", "baseline": "middle", "dx": 7, "dy": -5, "fontSize": 26, "color": "#222222"},
                     "encoding": {"x": {"datum": "c5", "type": "nominal", "bandPosition": 1}, "y": {"field": "mean", "type": "quantitative"}, "text": {"field": "mean", "type": "quantitative", "format": ".3f"}}}
                  ]
                }
              ]
            }
          ]
        }
      ]
    },
    {
      "spacing": 35,
      "hconcat": [
        {
          "spacing": 14,
          "hconcat": [
            {
              "width": 301, "height": 91,
              "layer": [
                {"data": {"name": "shade"}, "mark": {"type": "rect", "color": "#efefef"},
                 "encoding": {"y": {"field": "r", "type": "nominal", "scale": {"domain": ["MAML","Noise","Task Adaptor"], "paddingInner": 0, "paddingOuter": 0}, "axis": {"domain": false, "ticks": true, "tickSize": 5, "labelPadding": 9, "labelFontSize": 26.5, "title": null}}}},
                {"data": {"name": "conn"}, "mark": {"type": "rule", "color": "#999999", "strokeWidth": 3},
                 "encoding": {"x": {"field": "c", "type": "nominal", "scale": {"type": "point", "domain": ["c1","c2","c3","c4","c5"], "padding": 0.2}, "axis": {"domain": false, "labels": false, "ticks": true, "tickSize": 6, "title": null}}, "y": {"field": "from", "type": "nominal"}, "y2": {"field": "to"}}},
                {"data": {"name": "mx"}, "transform": [{"filter": "datum.on=='n'"}], "mark": {"type": "point", "filled": true, "size": 170, "fill": "#ffffff", "stroke": "#d9d9d9", "strokeWidth": 1.5, "opacity": 1},
                 "encoding": {"x": {"field": "c", "type": "nominal"}, "y": {"field": "r", "type": "nominal"}}},
                {"data": {"name": "mx"}, "transform": [{"filter": "datum.on=='y'"}], "mark": {"type": "point", "filled": true, "size": 170, "fill": "#8c8c8c", "stroke": "#333333", "strokeWidth": 1.5, "opacity": 1},
                 "encoding": {"x": {"field": "c", "type": "nominal"}, "y": {"field": "r", "type": "nominal"}}}
              ]
            },
            {
              "width": 301, "height": 91,
              "layer": [
                {"data": {"name": "shade"}, "mark": {"type": "rect", "color": "#efefef"},
                 "encoding": {"y": {"field": "r", "type": "nominal", "scale": {"domain": ["MAML","Noise","Task Adaptor"], "paddingInner": 0, "paddingOuter": 0}, "axis": {"domain": false, "ticks": true, "tickSize": 5, "labelPadding": 9, "labelFontSize": 26.5, "title": null}}}},
                {"data": {"name": "conn"}, "mark": {"type": "rule", "color": "#999999", "strokeWidth": 3},
                 "encoding": {"x": {"field": "c", "type": "nominal", "scale": {"type": "point", "domain": ["c1","c2","c3","c4","c5"], "padding": 0.2}, "axis": {"domain": false, "labels": false, "ticks": true, "tickSize": 6, "title": null}}, "y": {"field": "from", "type": "nominal"}, "y2": {"field": "to"}}},
                {"data": {"name": "mx"}, "transform": [{"filter": "datum.on=='n'"}], "mark": {"type": "point", "filled": true, "size": 170, "fill": "#ffffff", "stroke": "#d9d9d9", "strokeWidth": 1.5, "opacity": 1},
                 "encoding": {"x": {"field": "c", "type": "nominal"}, "y": {"field": "r", "type": "nominal"}}},
                {"data": {"name": "mx"}, "transform": [{"filter": "datum.on=='y'"}], "mark": {"type": "point", "filled": true, "size": 170, "fill": "#8c8c8c", "stroke": "#333333", "strokeWidth": 1.5, "opacity": 1},
                 "encoding": {"x": {"field": "c", "type": "nominal"}, "y": {"field": "r", "type": "nominal"}}}
              ]
            }
          ]
        },
        {
          "spacing": 13,
          "hconcat": [
            {
              "width": 301, "height": 91,
              "layer": [
                {"data": {"name": "shade"}, "mark": {"type": "rect", "color": "#efefef"},
                 "encoding": {"y": {"field": "r", "type": "nominal", "scale": {"domain": ["MAML","Noise","Task Adaptor"], "paddingInner": 0, "paddingOuter": 0}, "axis": {"domain": false, "ticks": true, "tickSize": 5, "labelPadding": 9, "labelFontSize": 26.5, "title": null}}}},
                {"data": {"name": "conn"}, "mark": {"type": "rule", "color": "#999999", "strokeWidth": 3},
                 "encoding": {"x": {"field": "c", "type": "nominal", "scale": {"type": "point", "domain": ["c1","c2","c3","c4","c5"], "padding": 0.2}, "axis": {"domain": false, "labels": false, "ticks": true, "tickSize": 6, "title": null}}, "y": {"field": "from", "type": "nominal"}, "y2": {"field": "to"}}},
                {"data": {"name": "mx"}, "transform": [{"filter": "datum.on=='n'"}], "mark": {"type": "point", "filled": true, "size": 170, "fill": "#ffffff", "stroke": "#d9d9d9", "strokeWidth": 1.5, "opacity": 1},
                 "encoding": {"x": {"field": "c", "type": "nominal"}, "y": {"field": "r", "type": "nominal"}}},
                {"data": {"name": "mx"}, "transform": [{"filter": "datum.on=='y'"}], "mark": {"type": "point", "filled": true, "size": 170, "fill": "#8c8c8c", "stroke": "#333333", "strokeWidth": 1.5, "opacity": 1},
                 "encoding": {"x": {"field": "c", "type": "nominal"}, "y": {"field": "r", "type": "nominal"}}}
              ]
            },
            {
              "width": 301, "height": 91,
              "layer": [
                {"data": {"name": "shade"}, "mark": {"type": "rect", "color": "#efefef"},
                 "encoding": {"y": {"field": "r", "type": "nominal", "scale": {"domain": ["MAML","Noise","Task Adaptor"], "paddingInner": 0, "paddingOuter": 0}, "axis": {"domain": false, "ticks": true, "tickSize": 5, "labelPadding": 9, "labelFontSize": 26.5, "title": null}}}},
                {"data": {"name": "conn"}, "mark": {"type": "rule", "color": "#999999", "strokeWidth": 3},
                 "encoding": {"x": {"field": "c", "type": "nominal", "scale": {"type": "point", "domain": ["c1","c2","c3","c4","c5"], "padding": 0.2}, "axis": {"domain": false, "labels": false, "ticks": true, "tickSize": 6, "title": null}}, "y": {"field": "from", "type": "nominal"}, "y2": {"field": "to"}}},
                {"data": {"name": "mx"}, "transform": [{"filter": "datum.on=='n'"}], "mark": {"type": "point", "filled": true, "size": 170, "fill": "#ffffff", "stroke": "#d9d9d9", "strokeWidth": 1.5, "opacity": 1},
                 "encoding": {"x": {"field": "c", "type": "nominal"}, "y": {"field": "r", "type": "nominal"}}},
                {"data": {"name": "mx"}, "transform": [{"filter": "datum.on=='y'"}], "mark": {"type": "point", "filled": true, "size": 170, "fill": "#8c8c8c", "stroke": "#333333", "strokeWidth": 1.5, "opacity": 1},
                 "encoding": {"x": {"field": "c", "type": "nominal"}, "y": {"field": "r", "type": "nominal"}}}
              ]
            }
          ]
        }
      ]
    }
  ],
  "spacing": 19
}
